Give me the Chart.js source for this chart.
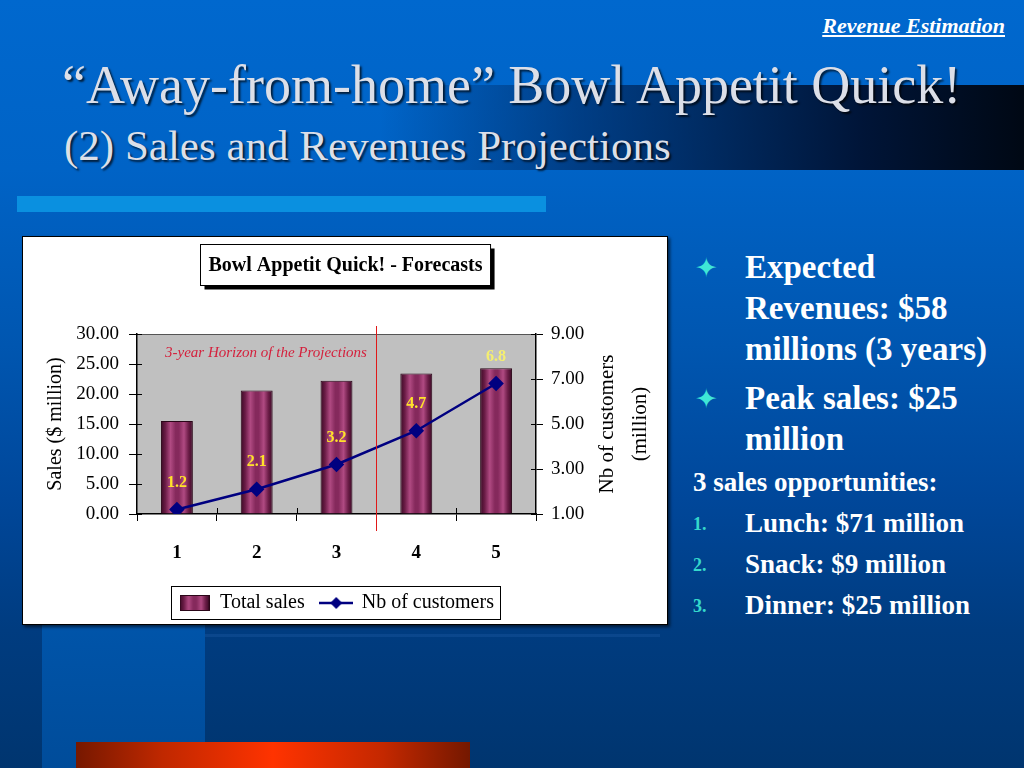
<!DOCTYPE html>
<html>
<head>
<meta charset="utf-8">
<script src="https://cdn.jsdelivr.net/npm/chart.js@4.4.1/dist/chart.umd.min.js"></script>
<style>
html,body{margin:0;padding:0;}
body{width:1024px;height:768px;overflow:hidden;position:relative;font-family:"Liberation Serif","Times New Roman",serif;
  background:linear-gradient(180deg,#0068CE 0%,#0063C6 22%,#0056B0 45%,#00479A 65%,#003C80 82%,#00356F 100%);}
.abs{position:absolute;}
#band{left:380px;top:85px;width:644px;height:85px;background:linear-gradient(90deg,rgba(0,40,110,0) 0%,rgba(0,25,70,0.5) 30%,rgba(0,12,40,0.9) 75%,#000814 100%);}
#lightbar{left:17px;top:196px;width:529px;height:16px;background:#0A90E0;}
#strip{left:42px;top:560px;width:163px;height:208px;background:linear-gradient(180deg,#0058B0,#004C9A);}
#hline{left:205px;top:634px;width:455px;height:3px;background:rgba(80,140,220,0.14);}
#orange{left:76px;top:742px;width:394px;height:26px;background:linear-gradient(90deg,#761800 0%,#C02800 22%,#FF3300 50%,#C42800 78%,#741800 100%);}
#rev{right:19px;top:15px;color:#fff;font-style:italic;font-weight:bold;font-size:22px;line-height:22px;text-decoration:underline;white-space:nowrap;}
#t1{left:62px;top:58px;font-size:54px;line-height:54px;color:#DCDFE8;white-space:nowrap;text-shadow:2px 2px 2px rgba(0,0,0,0.7);}
#t2{left:64px;top:124px;font-size:43px;line-height:43px;color:#DCDFE8;white-space:nowrap;text-shadow:2px 2px 2px rgba(0,0,0,0.7);}
#chartbox{left:22px;top:236px;width:646px;height:389px;box-sizing:border-box;border:1px solid #000;background:#fff;box-shadow:2px 2px 3px rgba(0,0,0,0.6);}
#wrap{position:absolute;left:0;top:0;width:644px;height:387px;}
.big{color:#fff;font-weight:bold;font-size:33px;line-height:41px;white-space:nowrap;}
.mid{color:#fff;font-weight:bold;font-size:27px;line-height:41px;white-space:nowrap;}
.star{color:#3FE6D6;font-family:"DejaVu Sans",sans-serif;font-size:27px;line-height:41px;}
.num{color:#35D8CC;font-weight:bold;font-size:18px;line-height:41px;}
</style>
</head>
<body>
<div class="abs" id="band"></div>
<div class="abs" id="lightbar"></div>
<div class="abs" id="strip"></div>
<div class="abs" id="hline"></div>
<div class="abs" id="orange"></div>
<div class="abs" id="rev">Revenue Estimation</div>
<div class="abs" id="t1">“Away-from-home” Bowl Appetit Quick!</div>
<div class="abs" id="t2">(2) Sales and Revenues Projections</div>

<div class="abs star" style="left:695px;top:247px;">✦</div>
<div class="abs big" style="left:745px;top:247px;">Expected<br>Revenues: $58<br>millions (3 years)</div>
<div class="abs star" style="left:695px;top:378px;">✦</div>
<div class="abs big" style="left:745px;top:378px;">Peak sales: $25<br>million</div>
<div class="abs mid" style="left:693px;top:462px;">3 sales opportunities:</div>
<div class="abs num" style="left:693px;top:504px;">1.</div>
<div class="abs mid" style="left:745px;top:503px;">Lunch: $71 million</div>
<div class="abs num" style="left:693px;top:545px;">2.</div>
<div class="abs mid" style="left:745px;top:544px;">Snack: $9 million</div>
<div class="abs num" style="left:693px;top:586px;">3.</div>
<div class="abs mid" style="left:745px;top:585px;">Dinner: $25 million</div>

<div class="abs" id="chartbox"><div id="wrap"><canvas id="c"></canvas></div></div>

<script>
// ---- data ----
const categories = ['1', '2', '3', '4', '5'];
const totalSales = [15.5, 20.6, 22.2, 23.4, 24.3];
const customers = [1.2, 2.1, 3.2, 4.7, 6.8];
const customerLabels = ['1.2', '2.1', '3.2', '4.7', '6.8'];
const salesTickLabels = ['0.00', '5.00', '10.00', '15.00', '20.00', '25.00', '30.00'];
const customerTickLabels = ['1.00', '3.00', '5.00', '7.00', '9.00'];
const chartTitle = 'Bowl Appetit Quick! - Forecasts';
const horizonText = '3-year Horizon of the Projections';
const horizonAfterIndex = 2; // boundary between category 3 and 4
const seriesNames = ['Total sales', 'Nb of customers'];
const leftAxisTitle = 'Sales ($ million)';
const rightAxisTitle = ['Nb of customers', '(million)'];

const SERIF = '"Liberation Serif","Times New Roman",serif';
const stripeStops = [[0,'#3a0a24'],[0.14,'#6a1c46'],[0.3,'#b04a82'],[0.46,'#85295c'],[0.56,'#85295c'],[0.72,'#b04a82'],[0.87,'#6a1c46'],[1,'#3a0a24']];

function stripeGradient(ctx, x0, x1) {
  const g = ctx.createLinearGradient(x0, 0, x1, 0);
  stripeStops.forEach(s => g.addColorStop(s[0], s[1]));
  return g;
}

// legend icons
const barIcon = document.createElement('canvas');
barIcon.width = 30; barIcon.height = 16;
(function(){
  const c = barIcon.getContext('2d');
  c.fillStyle = stripeGradient(c, 0, 30);
  c.fillRect(0, 0, 30, 16);
  c.strokeStyle = '#2a0618'; c.lineWidth = 1;
  c.strokeRect(0.5, 0.5, 29, 15);
})();
const lineIcon = document.createElement('canvas');
lineIcon.width = 34; lineIcon.height = 14;
(function(){
  const c = lineIcon.getContext('2d');
  c.strokeStyle = '#000080'; c.lineWidth = 2.5;
  c.beginPath(); c.moveTo(0, 7); c.lineTo(34, 7); c.stroke();
  c.fillStyle = '#000080';
  c.beginPath(); c.moveTo(17, 1); c.lineTo(23, 7); c.lineTo(17, 13); c.lineTo(11, 7); c.closePath(); c.fill();
})();

const decorPlugin = {
  id: 'decor',
  beforeDraw(chart) {
    const {ctx, chartArea: a} = chart;
    ctx.save();
    ctx.fillStyle = '#C0C0C0';
    ctx.fillRect(a.left, a.top, a.right - a.left, a.bottom - a.top);
    ctx.strokeStyle = '#555';
    ctx.lineWidth = 1;
    ctx.beginPath(); ctx.moveTo(a.left, a.top + 0.5); ctx.lineTo(a.right, a.top + 0.5); ctx.stroke();
    ctx.restore();
  },
  afterDatasetsDraw(chart) {
    const {ctx, chartArea: a, scales} = chart;
    ctx.save();
    // horizon line
    const xs = scales.x;
    const xr = (xs.getPixelForValue(horizonAfterIndex) + xs.getPixelForValue(horizonAfterIndex + 1)) / 2;
    ctx.strokeStyle = '#E01818'; ctx.lineWidth = 1;
    ctx.beginPath(); ctx.moveTo(Math.round(xr) + 0.5, a.top - 8); ctx.lineTo(Math.round(xr) + 0.5, a.bottom + 17); ctx.stroke();
    // horizon text
    ctx.font = 'italic 15px ' + SERIF;
    ctx.fillStyle = '#D4203C';
    ctx.textAlign = 'left'; ctx.textBaseline = 'middle';
    ctx.fillText(horizonText, a.left + 28, a.top + 19);
    // data labels on the line
    const meta = chart.getDatasetMeta(1);
    ctx.font = 'bold 16px ' + SERIF;
    ctx.textAlign = 'center';
    meta.data.forEach((pt, i) => {
      ctx.fillStyle = i === meta.data.length - 1 ? '#F4EE70' : '#FFE22A';
      ctx.fillText(customerLabels[i], pt.x, pt.y - 27);
    });
    ctx.restore();
  },
  afterDraw(chart) {
    const {ctx, chartArea: a, scales} = chart;
    ctx.save();
    // inside tick parts (ticks cross the axes)
    ctx.strokeStyle = '#000'; ctx.lineWidth = 1;
    ctx.beginPath();
    scales.y.ticks.forEach(t => {
      const y = Math.round(scales.y.getPixelForValue(t.value)) + 0.5;
      ctx.moveTo(a.left, y); ctx.lineTo(a.left + 5, y);
    });
    scales.y1.ticks.forEach(t => {
      const y = Math.round(scales.y1.getPixelForValue(t.value)) + 0.5;
      ctx.moveTo(a.right - 5, y); ctx.lineTo(a.right, y);
    });
    const xs = scales.x;
    for (let i = 0; i < categories.length - 1; i++) {
      if (i === horizonAfterIndex) continue;
      const x = Math.round((xs.getPixelForValue(i) + xs.getPixelForValue(i + 1)) / 2) + 0.5;
      ctx.moveTo(x, a.bottom); ctx.lineTo(x, a.bottom - 6);
    }
    ctx.stroke();
    // right axis title (reads bottom-to-top)
    ctx.font = '21px ' + SERIF;
    ctx.fillStyle = '#000';
    ctx.textAlign = 'center'; ctx.textBaseline = 'middle';
    const cy = (a.top + a.bottom) / 2;
    [[rightAxisTitle[0], a.right + 71], [rightAxisTitle[1], a.right + 104]].forEach(([t, x]) => {
      ctx.save(); ctx.translate(x, cy); ctx.rotate(-Math.PI / 2); ctx.fillText(t, 0, 0); ctx.restore();
    });
    // title box with shadow
    ctx.font = 'bold 20px ' + SERIF;
    const tw = ctx.measureText(chartTitle).width;
    const bw = tw + 16, bh = 41;
    const bx = Math.round(322 - bw / 2) + 0.5, by = 7.5;
    ctx.fillStyle = '#000';
    ctx.fillRect(bx + 4, by + 4, bw, bh);
    ctx.fillStyle = '#fff';
    ctx.fillRect(bx, by, bw, bh);
    ctx.strokeStyle = '#000'; ctx.lineWidth = 1;
    ctx.strokeRect(bx, by, bw, bh);
    ctx.fillStyle = '#000';
    ctx.fillText(chartTitle, bx + bw / 2, by + bh / 2 + 1);
    // legend border
    const hb = chart.legend.legendHitBoxes;
    if (hb && hb.length) {
      const l = hb[0].left - 8, r = hb[hb.length - 1].left + hb[hb.length - 1].width + 6;
      const cyl = hb[0].top + hb[0].height / 2;
      ctx.strokeStyle = '#000'; ctx.lineWidth = 1;
      ctx.strokeRect(Math.round(l) + 0.5, Math.round(cyl - 17) + 0.5, Math.round(r - l), 33);
    }
    ctx.restore();
  }
};

new Chart(document.getElementById('c'), {
  type: 'bar',
  data: {
    labels: categories,
    datasets: [
      {
        type: 'bar', label: seriesNames[0], data: totalSales, yAxisID: 'y', order: 2,
        categoryPercentage: 1, barPercentage: 0.4,
        borderColor: '#2a0618', borderWidth: 1,
        backgroundColor(ctx) {
          const chart = ctx.chart;
          if (!chart.chartArea || ctx.type !== 'data') return '#8a2e5e';
          const xs = chart.scales.x;
          const x = xs.getPixelForValue(ctx.dataIndex);
          const w = (xs.getPixelForValue(1) - xs.getPixelForValue(0)) * 0.4;
          return stripeGradient(chart.ctx, x - w / 2, x + w / 2);
        }
      },
      {
        type: 'line', label: seriesNames[1], data: customers, yAxisID: 'y1', order: 1,
        borderColor: '#000080', borderWidth: 2.5, tension: 0,
        pointStyle: 'rectRot', pointRadius: 6, pointHoverRadius: 6,
        pointBackgroundColor: '#000080', pointBorderColor: '#000080'
      }
    ]
  },
  options: {
    responsive: true, maintainAspectRatio: false, animation: false,
    layout: { padding: { left: 0, right: 0, top: 97, bottom: 1 } },
    plugins: {
      tooltip: { enabled: false },
      legend: {
        display: true, position: 'bottom', fullSize: false,
        labels: {
          usePointStyle: true, pointStyleWidth: 31, padding: 16,
          color: '#000', font: { family: SERIF, size: 20 },
          generateLabels() {
            return [
              { text: seriesNames[0], pointStyle: barIcon, datasetIndex: 0, hidden: false, lineWidth: 0, fontColor: '#000' },
              { text: seriesNames[1], pointStyle: lineIcon, datasetIndex: 1, hidden: false, lineWidth: 0, fontColor: '#000' }
            ];
          }
        },
        onClick() {}
      }
    },
    scales: {
      x: {
        type: 'category', offset: true,
        grid: { offset: true, drawOnChartArea: false, tickLength: 7, color: '#000' },
        border: { color: '#000', width: 1.5 },
        ticks: { color: '#000', font: { family: SERIF, size: 19, weight: 'bold' }, padding: 21 },
        afterFit(s) { s.height = 63; }
      },
      y: {
        position: 'left', min: 0, max: 30,
        ticks: { stepSize: 5, color: '#000', font: { family: SERIF, size: 19 }, padding: 10,
          callback: (v, i) => salesTickLabels[i] },
        grid: { drawOnChartArea: false, tickLength: 8, color: '#000' },
        border: { color: '#000', width: 1.5 },
        title: { display: true, text: leftAxisTitle, color: '#000', font: { family: SERIF, size: 20 }, padding: { top: 21, bottom: 0 } },
        afterFit(s) { s.width = 114; }
      },
      y1: {
        position: 'right', min: 1, max: 9,
        ticks: { stepSize: 2, color: '#000', font: { family: SERIF, size: 19 }, padding: 8,
          callback: (v, i) => customerTickLabels[i] },
        grid: { drawOnChartArea: false, tickLength: 7, color: '#000' },
        border: { color: '#000', width: 1.5 },
        afterFit(s) { s.width = 131; }
      }
    }
  },
  plugins: [decorPlugin]
});
</script>
</body>
</html>
